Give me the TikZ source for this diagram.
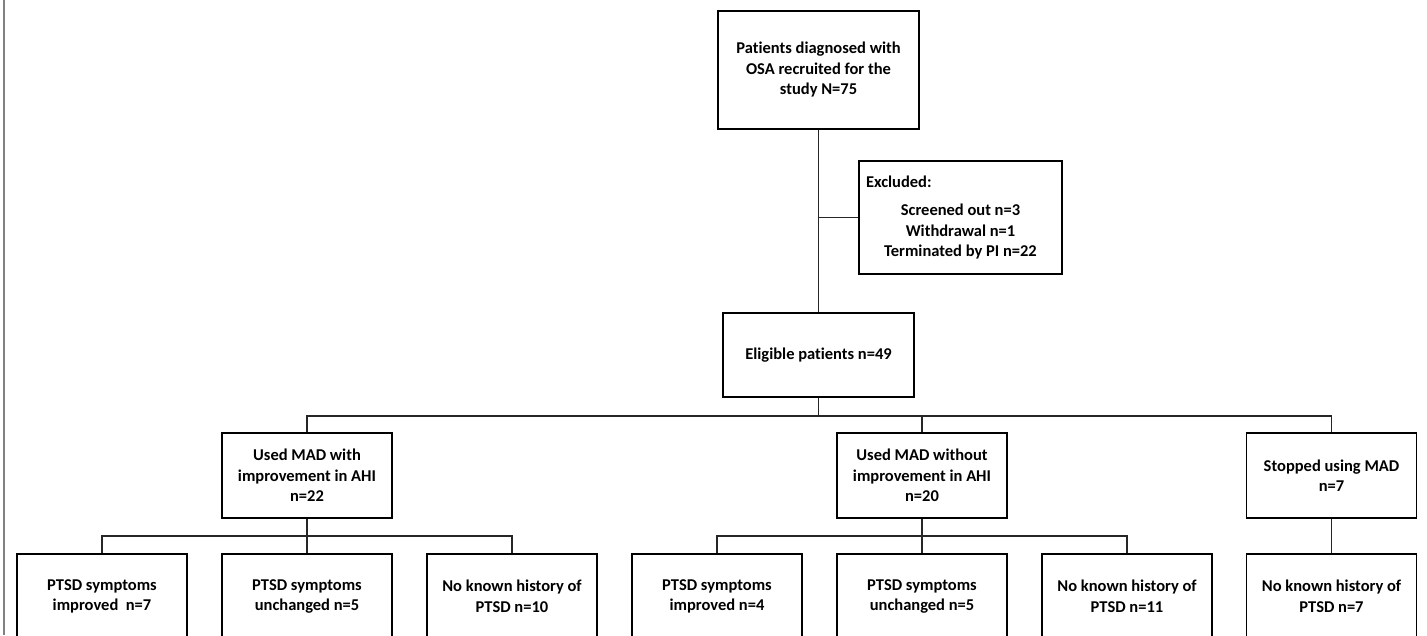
\documentclass[tikz,border=0pt]{standalone}
\usepackage{fontspec}
\setmainfont[Ligatures={NoCommon}]{Carlito}
\begin{document}
\begin{tikzpicture}[x=1pt,y=-1pt,
  box/.style={draw=black, line width=1.5pt, fill=white, align=center, inner sep=0pt,
    font=\bfseries\fontsize{16.5}{20.5}\selectfont},
  smallbox/.style={box, minimum width=170pt, minimum height=85pt},
  conn/.style={draw=black!85, line width=1.6pt}]
\clip (0,0) rectangle (1427,635);
\fill[white] (0,0) rectangle (1427,635);
\draw[gray, line width=2pt] (4,0) -- (4,635);
% nodes
\node[box, minimum width=201pt, minimum height=118pt] (top) at (818.5,70)
  {Patients diagnosed with\\OSA recruited for the\\study N=75};
\node[box, minimum width=203pt, minimum height=113pt] (excl) at (960.5,217.5)
  {\makebox[189pt][l]{Excluded:}\\[8pt]Screened out n=3\\Withdrawal n=1\\Terminated by PI n=22};
\node[box, minimum width=191pt, minimum height=84pt] (elig) at (818.5,355)
  {Eligible patients n=49};
\node[smallbox] (m1) at (307,475.5) {Used MAD with\\improvement in AHI\\n=22};
\node[smallbox] (m2) at (922,475.5) {Used MAD without\\improvement in AHI\\n=20};
\node[smallbox] (m3) at (1331.5,475.5) {Stopped using MAD\\n=7};
\node[smallbox] (b1) at (102,596.5) {PTSD symptoms\\improved~ n=7};
\node[smallbox] (b2) at (307,596.5) {PTSD symptoms\\unchanged n=5};
\node[smallbox] (b3) at (512,596.5) {No known history of\\PTSD n=10};
\node[smallbox] (b4) at (717,596.5) {PTSD symptoms\\improved n=4};
\node[smallbox] (b5) at (922,596.5) {PTSD symptoms\\unchanged n=5};
\node[smallbox] (b6) at (1127,596.5) {No known history of\\PTSD n=11};
\node[smallbox] (b7) at (1331.5,596.5) {No known history of\\PTSD n=7};
\coordinate (bus1) at (0,416);
\coordinate (bus2) at (0,536);
% connectors
\draw[conn] (top.south) -- (elig.north);
\draw[conn] (top.south |- excl.west) -- (excl.west);
\draw[conn] (elig.south) -- (elig.south |- bus1);
\draw[conn] (m1.north) |- (m3.north |- bus1) -- (m3.north);
\draw[conn] (m2.north) -- (m2.north |- bus1);
\draw[conn] (b1.north) |- (b3.north |- bus2) -- (b3.north);
\draw[conn] (m1.south) -- (b2.north);
\draw[conn] (b4.north) |- (b6.north |- bus2) -- (b6.north);
\draw[conn] (m2.south) -- (b5.north);
\draw[conn] (m3.south) -- (b7.north);
\end{tikzpicture}
\end{document}
